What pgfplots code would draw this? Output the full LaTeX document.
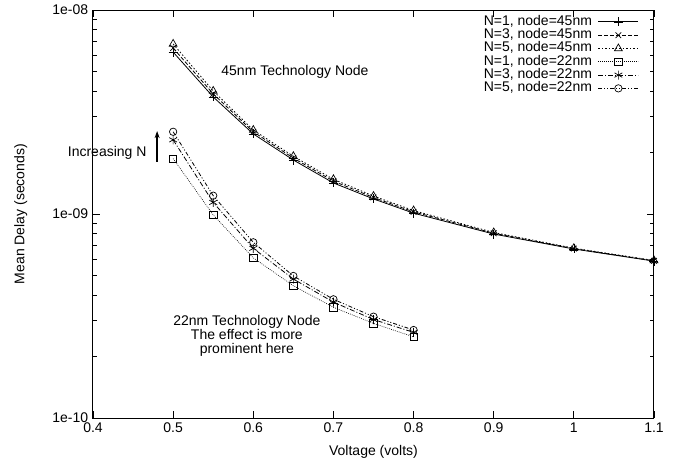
\documentclass[border=0pt]{standalone}
\usepackage{fontspec}
\setmainfont{Liberation Sans}
\usepackage{pgfplots}
\usetikzlibrary{arrows.meta}
\pgfplotsset{compat=1.18}
\begin{document}
\fontsize{14pt}{16pt}\selectfont
\begin{tikzpicture}
\begin{axis}[
  at={(0,0)}, anchor=south west,
  scale only axis, width=561pt, height=408pt,
  ymode=log, xmin=0.4, xmax=1.1, ymin=1e-10, ymax=1e-8,
  xtick={0.4,0.5,0.6,0.7,0.8,0.9,1.0,1.1},
  xticklabels={0.4,0.5,0.6,0.7,0.8,0.9,1,1.1},
  ytick={1e-10,1e-9,1e-8},
  yticklabels={1e-10,1e-09,1e-08},
  minor ytick={2e-10,3e-10,4e-10,5e-10,6e-10,7e-10,8e-10,9e-10,2e-9,3e-9,4e-9,5e-9,6e-9,7e-9,8e-9,9e-9},
  tick align=inside, major tick length=7pt, minor tick length=4pt,
  every tick/.style={black, line width=0.8pt},
  axis line style={line width=1pt},
  /pgf/number format/assume math mode=true,
  ticklabel style={font=\fontsize{14pt}{16pt}\selectfont},
  xlabel={Voltage (volts)}, ylabel={Mean Delay (seconds)},
  xlabel style={at={(axis description cs:0.5,-0.083)}, anchor=center},
  ylabel style={at={(axis description cs:-0.129,0.5)}, anchor=center},
  clip=false,
  legend plot pos=right,
  legend cell align=right,
  legend style={draw=none, fill=none, at={(rel axis cs:1,1)}, anchor=north east,
    xshift=-12pt, yshift=-3pt,
    nodes={inner sep=0pt, text height=10pt, text depth=3.3pt},
    /tikz/column sep=6pt},
  legend image code/.code={\draw[mark repeat=2, mark phase=2, #1] plot coordinates {(0pt,0pt) (20pt,0pt) (40pt,0pt)};},
]
\addplot[black, line width=0.8pt, mark=+, mark size=4.5pt, mark options={solid, line width=0.7pt}] coordinates {
(0.5,6.22e-9) (0.55,3.75e-9) (0.6,2.47e-9) (0.65,1.84e-9) (0.7,1.42e-9) (0.75,1.186e-9) (0.8,1.01e-9) (0.9,7.98e-10) (1.0,6.74e-10) (1.1,5.88e-10)};
\addlegendentry{N=1, node=45nm}
\addplot[black, line width=0.8pt, dash pattern=on 4pt off 2pt, mark=x, mark size=4pt, mark options={solid, line width=0.7pt}] coordinates {
(0.5,6.51e-9) (0.55,3.88e-9) (0.6,2.53e-9) (0.65,1.88e-9) (0.7,1.45e-9) (0.75,1.205e-9) (0.8,1.025e-9) (0.9,8.05e-10) (1.0,6.77e-10) (1.1,5.9e-10)};
\addlegendentry{N=3, node=45nm}
\addplot[black, line width=0.8pt, dash pattern=on 1.5pt off 2pt, mark=triangle, mark size=4.5pt, mark options={solid, line width=0.7pt}] coordinates {
(0.5,6.82e-9) (0.55,4.01e-9) (0.6,2.58e-9) (0.65,1.92e-9) (0.7,1.48e-9) (0.75,1.225e-9) (0.8,1.04e-9) (0.9,8.12e-10) (1.0,6.8e-10) (1.1,5.92e-10)};
\addlegendentry{N=5, node=45nm}
\addplot[black, line width=0.6pt, dash pattern=on 0.8pt off 1.2pt, mark=square, mark size=3.7pt, mark options={solid, line width=0.7pt}] coordinates {
(0.5,1.87e-9) (0.55,9.9e-10) (0.6,6.1e-10) (0.65,4.45e-10) (0.7,3.49e-10) (0.75,2.91e-10) (0.8,2.5e-10)};
\addlegendentry{N=1, node=22nm}
\addplot[black, line width=0.8pt, dash pattern=on 5pt off 2pt on 1pt off 2pt, mark=asterisk, mark size=4.5pt, mark options={solid, line width=0.7pt}] coordinates {
(0.5,2.31e-9) (0.55,1.14e-9) (0.6,6.79e-10) (0.65,4.8e-10) (0.7,3.7e-10) (0.75,3.04e-10) (0.8,2.63e-10)};
\addlegendentry{N=3, node=22nm}
\addplot[black, line width=0.8pt, dash pattern=on 4pt off 2pt on 1pt off 2pt on 1pt off 2pt, mark=o, mark size=3.7pt, mark options={solid, line width=0.7pt}] coordinates {
(0.5,2.53e-9) (0.55,1.23e-9) (0.6,7.27e-10) (0.65,4.97e-10) (0.7,3.82e-10) (0.75,3.14e-10) (0.8,2.7e-10)};
\addlegendentry{N=5, node=22nm}
\node at (axis cs:0.652,5e-9) {45nm Technology Node};
\node[anchor=east, inner sep=0pt] at (axis cs:0.467,2e-9) {Increasing N};
\draw[-{Stealth[length=7pt,width=5pt]}, line width=1.5pt] (axis cs:0.48,1.8e-9) -- (axis cs:0.48,2.55e-9);
\node[align=center, inner sep=0pt, font=\fontsize{14pt}{14pt}\selectfont] at (axis cs:0.592,2.52e-10) {22nm Technology Node\\The effect is more\\prominent here};
\end{axis}
\pgfresetboundingbox
\path (-93pt,-48pt) rectangle (593pt,418pt);
\end{tikzpicture}
\end{document}
